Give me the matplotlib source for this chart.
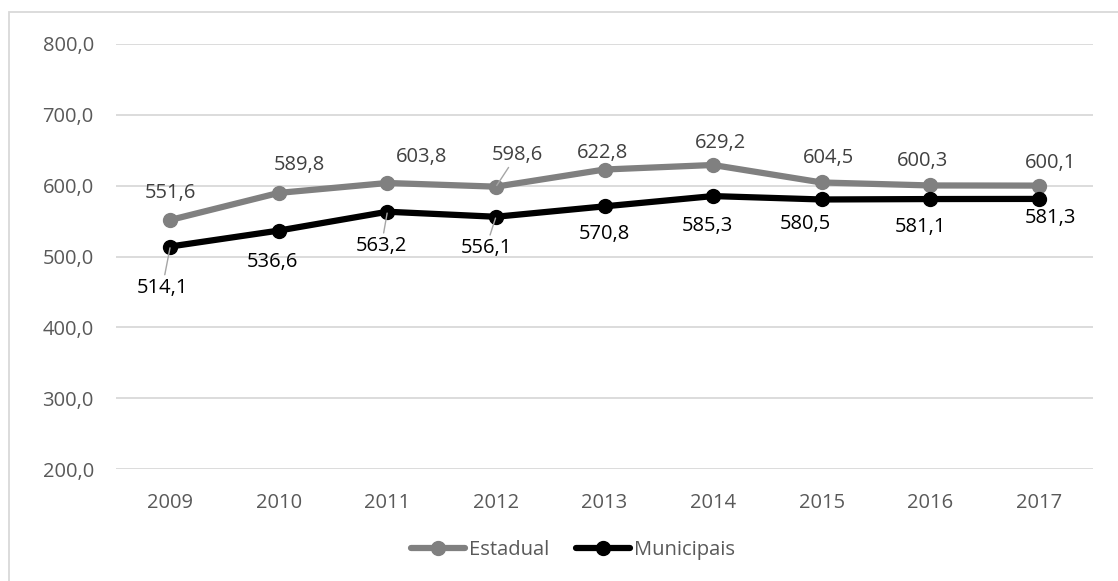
import matplotlib
matplotlib.use("Agg")
import matplotlib.pyplot as plt
from matplotlib.patches import Rectangle
from matplotlib.lines import Line2D

# Data
years = ["2009", "2010", "2011", "2012", "2013", "2014", "2015", "2016", "2017"]
estadual = [551.6, 589.8, 603.8, 598.6, 622.8, 629.2, 604.5, 600.3, 600.1]
municipais = [514.1, 536.6, 563.2, 556.1, 570.8, 585.3, 580.5, 581.1, 581.3]
y_ticks = [200, 300, 400, 500, 600, 700, 800]

# Label placement (pixel offsets from each point) and leader-line flags
est_offsets = [(0, 27), (21, 28), (34, 26), (21, 32), (-2, 17), (7, 22), (7, 24), (-8, 24), (12, 23)]
est_leaders = [False, False, False, True, False, False, False, False, False]
mun_offsets = [(-8, -41), (-6, -31), (-6, -34), (-10, -31), (0, -28), (-6, -30), (-16, -25), (-10, -28), (12, -19)]
mun_leaders = [True, False, True, True, False, False, False, False, False]

plt.rcParams["font.family"] = ["Open Sans", "DejaVu Sans"]
FS = 14.5
GRAY = "#808080"
TICK = "#595959"
GRID = "#d9d9d9"

W, H = 1118, 581
fig = plt.figure(figsize=(W / 100, H / 100), dpi=100)
ax = fig.add_axes([116 / W, 1 - 469 / H, (1093 - 116) / W, (469 - 44) / H])

x = list(range(len(years)))
ax.plot(x, estadual, color=GRAY, lw=4.5, marker="o", ms=10, solid_capstyle="round",
        zorder=3, label="Estadual")
ax.plot(x, municipais, color="black", lw=4.5, marker="o", ms=10, solid_capstyle="round",
        zorder=4, label="Municipais")


def fmt(v):
    return f"{v:.1f}".replace(".", ",")


def add_labels(values, offsets, leaders, color):
    for xi, v, off, lead in zip(x, values, offsets, leaders):
        kw = {}
        if lead:
            kw["arrowprops"] = dict(arrowstyle="-", color="#a6a6a6", lw=1.0,
                                    shrinkA=0, shrinkB=1)
        ax.annotate(fmt(v), xy=(xi, v), xytext=off, textcoords="offset pixels",
                    ha="center", va="center", fontsize=FS, color=color, zorder=6, **kw)


add_labels(estadual, est_offsets, est_leaders, "#404040")
add_labels(municipais, mun_offsets, mun_leaders, "black")

ax.set_xlim(-0.5, len(years) - 0.5)
ax.set_ylim(200, 800)
ax.set_xticks(x)
ax.set_xticklabels(years)
ax.set_yticks(y_ticks)
ax.set_yticklabels([fmt(t) for t in y_ticks])
ax.tick_params(axis="both", length=0, labelsize=FS, colors=TICK)
ax.tick_params(axis="y", pad=16)
ax.tick_params(axis="x", pad=17)
ax.grid(axis="y", color=GRID, lw=1.3, zorder=0)
ax.set_axisbelow(True)
for s in ax.spines.values():
    s.set_visible(False)

handles = [
    Line2D([], [], color=GRAY, lw=4.5, marker="o", ms=10, solid_capstyle="round"),
    Line2D([], [], color="black", lw=4.5, marker="o", ms=10, solid_capstyle="round"),
]
leg = fig.legend(handles, ["Estadual", "Municipais"], loc="center",
                 bbox_to_anchor=(573 / W, 1 - 550 / H), ncol=2, frameon=False,
                 fontsize=FS, handlelength=2.7, handletextpad=0.2, columnspacing=1.3)
for t in leg.get_texts():
    t.set_color(TICK)

# Chart-area border
fig.patches.append(Rectangle((9 / W, -0.1), 1.2, 1 - 12.5 / H + 0.1, transform=fig.transFigure,
                             fill=False, edgecolor=GRID, lw=1.3))

fig.savefig("out.png", dpi=100)
